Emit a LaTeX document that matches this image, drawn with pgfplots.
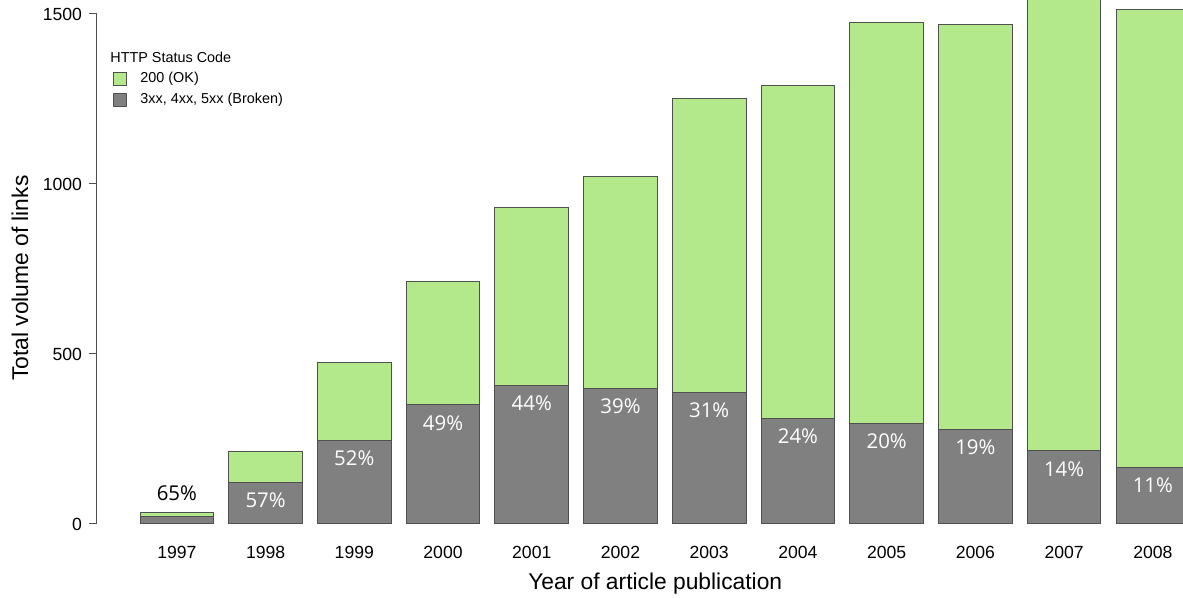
\documentclass[border=0pt]{standalone}
\usepackage{pgfplots}
\pgfplotsset{compat=1.18}
\usepackage{fontspec}
\setmainfont{Liberation Sans}
\newfontfamily\barfont{Open Sans}
\definecolor{okgreen}{RGB}{180,233,139}
\definecolor{brokengray}{RGB}{128,128,128}
\definecolor{edgegray}{RGB}{80,80,80}
\begin{document}
\begin{tikzpicture}
\begin{axis}[
  name=ax,
  scale only axis,
  width=543pt, height=255pt,
  xmin=1996.10, xmax=2008.34,
  ymin=0, ymax=1500,
  enlargelimits=false,
  clip=false,
  ybar, bar shift=0pt,
  bar width=0.83,
  axis y line*=left,
  axis x line*=bottom,
  x axis line style={draw=none},
  y axis line style={-, draw=edgegray, line width=0.5pt},
  xtick={1997,1998,1999,2000,2001,2002,2003,2004,2005,2006,2007,2008},
  ytick={0,500,1000,1500},
  xtick style={draw=none},
  ytick style={draw=edgegray, line width=0.5pt},
  tick align=outside,
  major tick length=4pt,
  /pgf/number format/1000 sep={},
  /pgf/number format/assume math mode=true,
  xticklabel style={font=\fontsize{8.8}{10}\selectfont, anchor=center, yshift=-10pt},
  yticklabel style={font=\fontsize{8.8}{10}\selectfont, anchor=east},
  xlabel={Year of article publication},
  ylabel={Total volume of links},
  every axis x label/.style={at={(axis description cs:0.514,0)}, anchor=center, yshift=-30pt, font=\fontsize{11.4}{13}\selectfont},
  every axis y label/.style={at={(axis description cs:0,0.482)}, anchor=center, rotate=90, yshift=38.5pt, font=\fontsize{11.4}{13}\selectfont},
  legend style={at={(axis description cs:0,1)}, anchor=north west, xshift=8pt, yshift=-27pt,
    draw=none, fill=none, font=\fontsize{7.2}{8.5}\selectfont, row sep=-0.3pt, inner sep=0pt,
    /tikz/every odd column/.append style={column sep=4.5pt}},
  legend cell align=left,
  legend image code/.code={\draw[#1, line width=0.5pt] (0pt,-3.25pt) rectangle (6.5pt,3.25pt);},
]
\addplot[fill=okgreen, draw=edgegray, line width=0.5pt,
  nodes near coords, point meta=explicit symbolic,
  every node near coord/.append style={anchor=center, yshift=9.5pt, text=black, font=\barfont\fontsize{10.2}{11}\selectfont}]
coordinates {
 (1997,35) [65\%]
 (1998,214) []
 (1999,474) []
 (2000,712) []
 (2001,932) []
 (2002,1021) []
 (2003,1250) []
 (2004,1291) []
 (2005,1476) []
 (2006,1468) []
 (2007,1550) []
 (2008,1512) []
};
\addplot[fill=brokengray, draw=edgegray, line width=0.5pt,
  nodes near coords, point meta=explicit symbolic,
  every node near coord/.append style={anchor=center, yshift=-9pt, text=white, font=\barfont\fontsize{10.2}{11}\selectfont}]
coordinates {
 (1997,23) []
 (1998,122) [57\%]
 (1999,246) [52\%]
 (2000,350) [49\%]
 (2001,408) [44\%]
 (2002,398) [39\%]
 (2003,388) [31\%]
 (2004,310) [24\%]
 (2005,295) [20\%]
 (2006,279) [19\%]
 (2007,215) [14\%]
 (2008,166) [11\%]
};
\legend{200 (OK), {3xx, 4xx, 5xx (Broken)}}
\node[anchor=west, font=\fontsize{7.2}{8.5}\selectfont, inner sep=0pt] at ([xshift=6.5pt, yshift=-21.5pt]axis description cs:0,1) {HTTP Status Code};
\end{axis}
\pgfresetboundingbox
\path[use as bounding box] ([xshift=-48.5pt,yshift=-37pt]ax.south west) rectangle ([yshift=7pt]ax.north east);
\end{tikzpicture}
\end{document}
